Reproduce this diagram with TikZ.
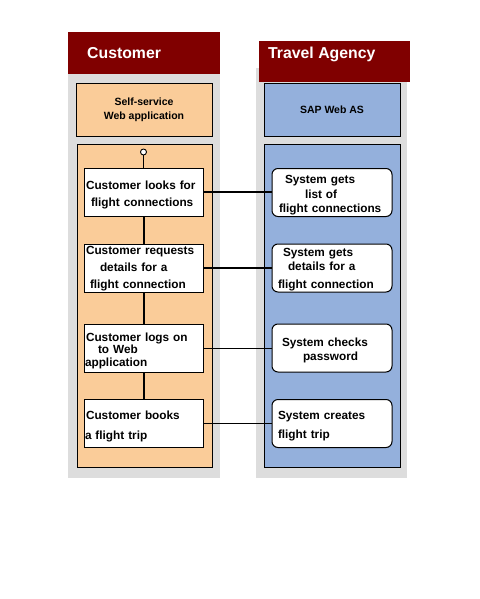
\documentclass[tikz,border=0pt]{standalone}
\usepackage{fontspec}
\setmainfont{Liberation Sans}
\definecolor{hdr}{RGB}{128,0,0}
\definecolor{panelgrey}{RGB}{221,221,221}
\definecolor{laneorange}{RGB}{250,204,153}
\definecolor{laneblue}{RGB}{148,176,220}
\newcommand\boxfont[1]{\fontsize{11.8}{#1}\selectfont\bfseries}
\begin{document}
\begin{tikzpicture}[x=1pt,y=-1pt,
  panel/.style={fill=panelgrey, draw=none},
  header/.style={fill=hdr, draw=none},
  headtext/.style={text=white, font=\fontsize{15.8}{18}\selectfont\bfseries, inner sep=0pt, anchor=base west},
  lane/.style={draw=black, line width=1pt},
  actbox/.style={draw=black, line width=1pt, fill=white, minimum width=119pt, minimum height=48pt, text width=119pt, inner xsep=0pt, inner ysep=0pt, align=left, text height=14pt},
  sysbox/.style={actbox, rounded corners=6pt, minimum width=120pt, text width=120pt},
  thickline/.style={line width=2pt},
  thinline/.style={line width=0.9pt}
]
\useasboundingbox (0,0) rectangle (479,599);
% panels
\fill[panelgrey] (68,32) rectangle (220,478);
\fill[panelgrey] (256,68) rectangle (407,478);
\node[header, minimum width=152pt, minimum height=42pt, inner sep=0pt, anchor=north west] (custhead) at (68,32) {};
\node[header, minimum width=151pt, minimum height=41pt, inner sep=0pt, anchor=north west] (agenthead) at (259,41) {};
\node[headtext] (custtext) at (87,59) {Customer};
\node[headtext] (agenttext) at (268,59) {Travel Agency};
% top boxes
\node[draw=black, line width=1pt, fill=laneorange, minimum width=136pt, minimum height=52pt, inner sep=0pt, align=center, font=\fontsize{10.5}{14}\selectfont\bfseries] (selfsvc) at (144,110) {Self-service\\Web application};
\node[draw=black, line width=1pt, fill=laneblue, minimum width=136pt, minimum height=52pt, inner sep=0pt, align=center, font=\fontsize{10.5}{14}\selectfont\bfseries] (sapweb) at (332,110) {SAP Web AS};
% lanes
\filldraw[lane, fill=laneorange] (77,144) rectangle (212,467);
\filldraw[lane, fill=laneblue] (264,144) rectangle (400,467);
% left activity boxes
\node[actbox, font=\boxfont{17}] (lb1) at (143.5,192) {\hspace*{2pt}Customer looks for\\\hspace*{7pt}flight connections};
\node[actbox, font=\boxfont{17}, text height=10pt] (lb2) at (143.5,268) {\hspace*{2pt}Customer requests\\\hspace*{16pt}details for a\\\hspace*{6pt}flight connection};
\node[actbox, font=\boxfont{12.5}] (lb3) at (143.5,348) {\hspace*{2pt}Customer logs on\\\hspace*{14pt}to Web\\\hspace*{1pt}application};
\node[actbox, font=\boxfont{20}] (lb4) at (143.5,423.5) {\hspace*{2pt}Customer books\\\hspace*{1pt}a flight trip};
% right system boxes
\node[sysbox, font=\boxfont{14.5}] (rb1) at (332,192.5) {\hspace*{13pt}System gets\\\hspace*{33pt}list of\\\hspace*{7pt}flight connections};
\node[sysbox, font=\boxfont{14}, text height=11pt] (rb2) at (332,268) {\hspace*{11pt}System gets\\\hspace*{16pt}details for a\\[4pt]\hspace*{6pt}flight connection};
\node[sysbox, font=\boxfont{14}] (rb3) at (332,348) {\hspace*{10pt}System checks\\\hspace*{31pt}password};
\node[sysbox, font=\boxfont{19}] (rb4) at (332,423.5) {\hspace*{6pt}System creates\\\hspace*{6pt}flight trip};
% start circle
\node[circle, draw=black, line width=0.9pt, fill=white, minimum size=6pt, inner sep=0pt] (start) at (143.5,152) {};
% connectors
\draw[thinline] (start) -- (lb1);
\draw[thickline] (lb1) -- (lb2);
\draw[thickline] (lb2) -- (lb3);
\draw[thickline] (lb3) -- (lb4);
\draw[thickline] (lb1) -- (rb1.west |- lb1);
\draw[thickline] (lb2) -- (rb2.west |- lb2);
\draw[thinline] (lb3) -- (rb3.west |- lb3);
\draw[thinline] (lb4) -- (rb4.west |- lb4);
\end{tikzpicture}
\end{document}
